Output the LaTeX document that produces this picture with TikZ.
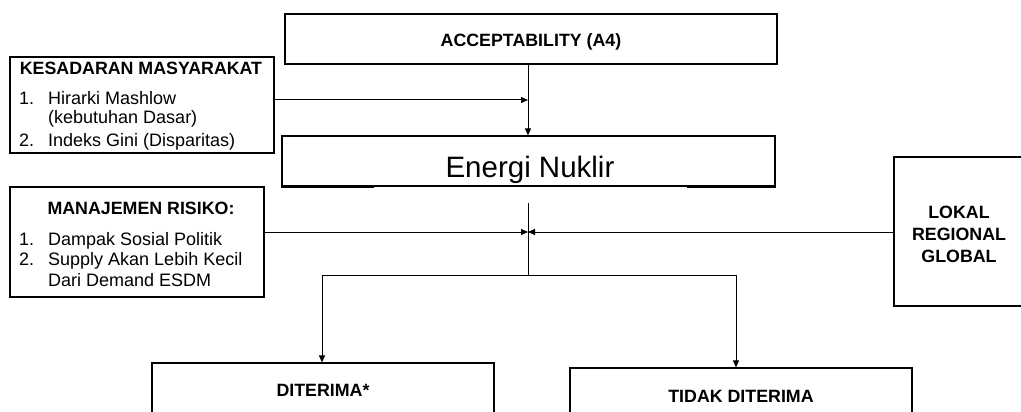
\documentclass[tikz,border=0pt]{standalone}
\usepackage{fontspec}
\setmainfont{Liberation Sans}
\usetikzlibrary{arrows.meta}
\begin{document}
\begin{tikzpicture}[x=1pt,y=-1pt,
  box/.style={draw=black,line width=1.2pt,fill=white,inner sep=0pt},
  title/.style={font=\fontsize{17.8}{21}\selectfont\bfseries,inner sep=0pt,anchor=base},
  item/.style={font=\fontsize{18}{21}\selectfont,inner sep=0pt,anchor=base west},
  conn/.style={draw=black,line width=1pt},
  arr/.style={conn,-{Triangle[length=7pt,width=6pt]}}]
\useasboundingbox (0,0) rectangle (1021,412);
% boxes
\node[box,minimum width=492pt,minimum height=50pt] (acc) at (531,39) {};
\node[title] (acct) at (531,47) {ACCEPTABILITY (A4)};
\node[box,minimum width=264pt,minimum height=96pt] (kes) at (142,105) {};
\node[title] (kest) at (141,75) {KESADARAN MASYARAKAT};
\node[item] (k1) at (19,104) {1.};
\node[item] (k1t) at (48,104) {Hirarki Mashlow};
\node[item] (k1b) at (48,124) {(kebutuhan Dasar)};
\node[item] (k2) at (19,146.5) {2.};
\node[item] (k2t) at (48,146.5) {Indeks Gini (Disparitas)};
\node[box,minimum width=493pt,minimum height=50pt] (en) at (528.5,161) {};
\node[inner sep=0pt,anchor=base,font=\fontsize{29.5}{34}\selectfont] (ent) at (530,177) {Energi Nuklir};
\draw[line width=2pt] (en.south west) -- ++(93,0) coordinate (enl);
\draw[line width=2pt] (en.south east) -- ++(-89,0) coordinate (enr);
\node[box,minimum width=254pt,minimum height=110pt] (man) at (137,242) {};
\node[title] (mant) at (141,214) {MANAJEMEN RISIKO:};
\node[item] (m1) at (19,245) {1.};
\node[item] (m1t) at (48,245) {Dampak Sosial Politik};
\node[item] (m2) at (19,265) {2.};
\node[item] (m2t) at (48,265) {Supply Akan Lebih Kecil};
\node[item] (m2b) at (48,286.5) {Dari Demand ESDM};
\node[box,minimum width=140pt,minimum height=149pt] (lok) at (964,231.5) {};
\node[title] (lok1) at (959,218) {LOKAL};
\node[title] (lok2) at (959,240) {REGIONAL};
\node[title] (lok3) at (959,262) {GLOBAL};
\node[box,minimum width=342pt,minimum height=80pt] (dit) at (323,403) {};
\node[title] (ditt) at (323,396) {DITERIMA*};
\node[box,minimum width=342pt,minimum height=80pt] (tid) at (741,408) {};
\node[title] (tidt) at (741,402) {TIDAK DITERIMA};
% connectors
\coordinate (j1) at (528,100);
\coordinate (jtop) at (528,203);
\coordinate (j2) at (528,232);
\coordinate (jbot) at (528,275);
\coordinate (sl) at (322,275);
\coordinate (sr) at (736,275);
\draw[arr] (acc.south -| j1) -- (en.north -| j1);
\draw[arr] (kes.east |- j1) -- (j1);
\draw[conn] (jtop) -- (jbot);
\draw[arr] (man.east |- j2) -- (j2);
\draw[arr] (lok.west |- j2) -- (j2);
\draw[conn] (sl) -- (sr);
\draw[arr] (sl) -- (dit.north -| sl);
\draw[arr] (sr) -- (tid.north -| sr);
\end{tikzpicture}
\end{document}
